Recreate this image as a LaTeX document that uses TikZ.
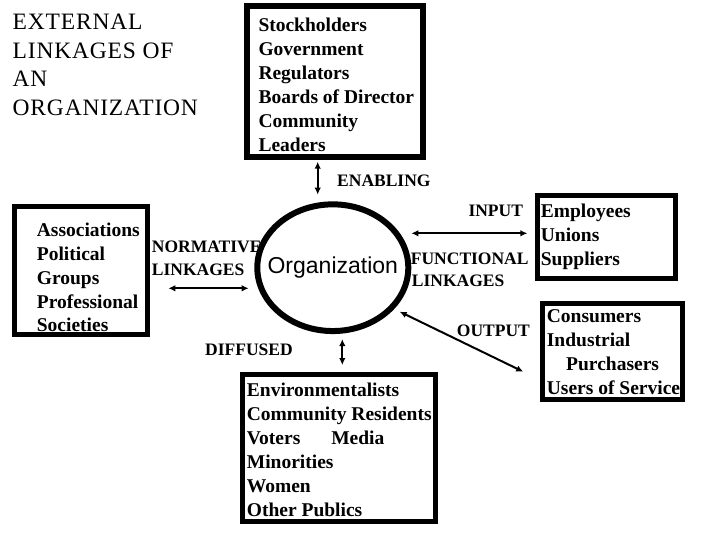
\documentclass[tikz,border=0pt]{standalone}
\usepackage{fontspec}
\setmainfont{Liberation Serif}
\newfontfamily\orgfont{Liberation Sans}
\newfontfamily\titlefont[LetterSpace=3.5]{Liberation Serif}
\usetikzlibrary{shapes.geometric,arrows.meta}
\tikzset{
  boxframe/.style={draw, rectangle, inner sep=0pt},
  boxtext/.style={anchor=north west, inner sep=0pt, align=left, font=\bfseries\fontsize{19.5}{24.1}\selectfont},
  lbl/.style={inner sep=0pt, align=left, font=\bfseries\fontsize{17.5}{23.7}\selectfont},
  dbl/.style={line width=2pt, {Latex[length=7pt,width=6.5pt]}-{Latex[length=7pt,width=6.5pt]}}
}
\begin{document}
\begin{tikzpicture}[x=1pt,y=-1pt]
\useasboundingbox (0,0) rectangle (720,540);
% title
\node[anchor=north west, inner sep=0pt, align=left, font=\titlefont\fontsize{23.5}{28.6}\selectfont] (title) at (12.5,13.7)
  {EXTERNAL\\LINKAGES OF\\AN\\ORGANIZATION};
% boxes
\node[boxframe, line width=6pt, minimum width=176.6pt, minimum height=150.4pt] (tbox) at (335,81.5) {};
\node[boxframe, line width=5pt, minimum width=133.6pt, minimum height=127.5pt] (lbox) at (81,270.5) {};
\node[boxframe, line width=5pt, minimum width=138.3pt, minimum height=82.5pt] (rtbox) at (606.7,237) {};
\node[boxframe, line width=5pt, minimum width=140pt, minimum height=96pt] (rbbox) at (612.5,351.2) {};
\node[boxframe, line width=5pt, minimum width=193.3pt, minimum height=147.5pt] (bbox) at (339.2,448) {};
% box texts
\node[boxtext] (ttext) at (258.3,17.5) {Stockholders\\Government\\Regulators\\Boards of Director\\Community\\Leaders};
\node[boxtext, font=\bfseries\fontsize{19.5}{23.9}\selectfont] (ltext) at (36.7,222.6) {Associations\\Political\\Groups\\Professional\\Societies};
\node[boxtext, font=\bfseries\fontsize{19.5}{24.2}\selectfont] (rttext) at (540.7,203.5) {Employees\\Unions\\Suppliers};
\node[boxtext, font=\bfseries\fontsize{19.5}{24}\selectfont] (rbtext) at (546.7,309.8) {Consumers\\Industrial\\\hspace*{19.3pt}Purchasers\\Users of Service};
\node[boxtext, font=\bfseries\fontsize{19.5}{24}\selectfont] (btext) at (246.7,383.2) {Environmentalists\\Community Residents\\Voters\hspace{31pt}Media\\Minorities\\Women\\Other Publics};
% organization
\node[draw, ellipse, line width=6pt, minimum width=151pt, minimum height=126.7pt, inner sep=0pt] (org) at (332.8,267.7) {};
\node[inner sep=0pt, font=\orgfont\fontsize{23}{27}\selectfont] (orgtext) at (org.center) {Organization};
% labels
\node[lbl, anchor=base west] (enab) at (337,186.7) {ENABLING};
\node[lbl, anchor=north west] (norm) at (151.7,240.5) {NORMATIVE\\LINKAGES};
\node[lbl, anchor=north west, font=\bfseries\fontsize{17.5}{21.7}\selectfont] (func) at (410.7,253.2) {FUNCTIONAL\\\hspace*{1pt}LINKAGES};
\node[lbl, anchor=base west] (inp) at (468.3,216.7) {INPUT};
\node[lbl, anchor=base west] (outp) at (456.7,336.7) {OUTPUT};
\node[lbl, anchor=base west] (diff) at (205,355) {DIFFUSED};
% connectors
\draw[dbl] ([xshift=-17.3pt,yshift=-2pt]tbox.south) -- ([xshift=-15.1pt,yshift=6.7pt]org.north);
\draw[dbl] ([xshift=18pt,yshift=-17.8pt]lbox.east) -- ([xshift=-5.6pt,yshift=-20.6pt]org.west);
\draw[dbl] ([yshift=34.4pt]org.east) -- ([xshift=-7.7pt,yshift=3.7pt]rtbox.west);
\draw[dbl] ([xshift=-11.6pt,yshift=-44pt]org.east) -- ([xshift=-16.7pt,yshift=-20.5pt]rbbox.west);
\draw[dbl] ([xshift=9.5pt,yshift=-5pt]org.south) -- ([xshift=3.1pt,yshift=6.7pt]bbox.north);
\end{tikzpicture}
\end{document}
